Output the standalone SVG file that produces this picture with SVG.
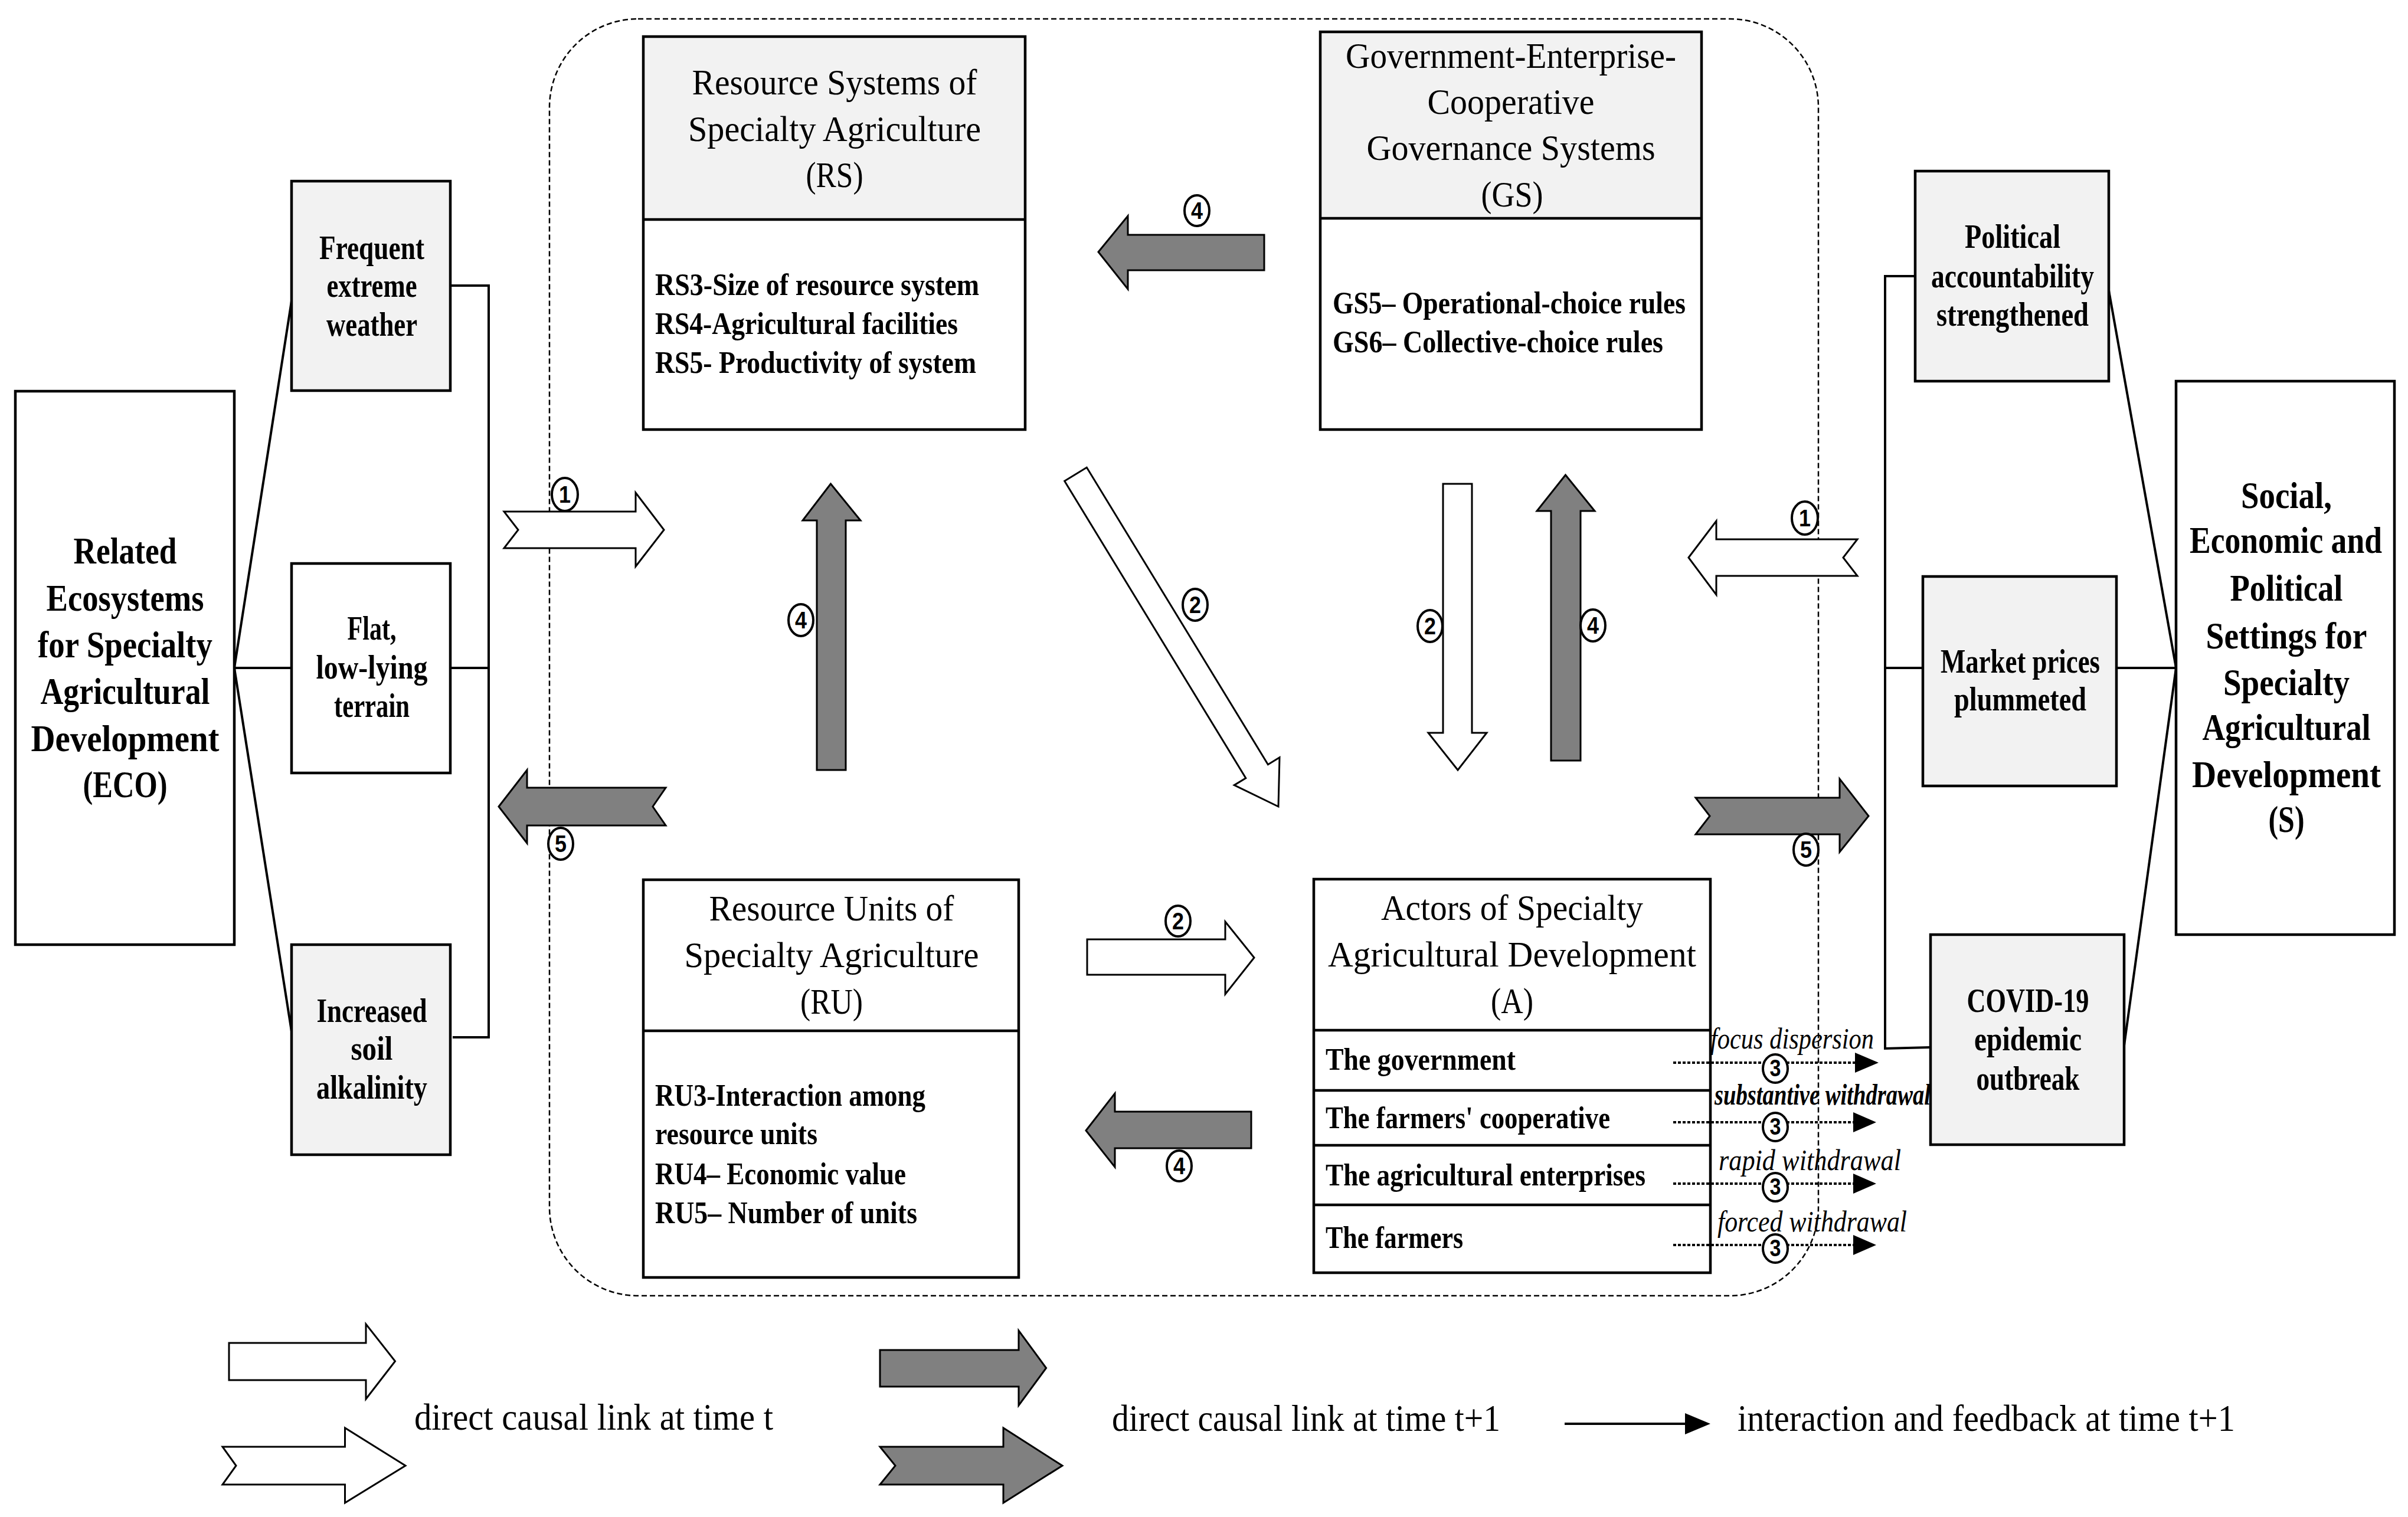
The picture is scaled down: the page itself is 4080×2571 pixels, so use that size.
<svg xmlns="http://www.w3.org/2000/svg" width="4080" height="2571" viewBox="0 0 4080 2571">
<style>
.box{fill:#fff;stroke:#000;stroke-width:4.5}
.gbox{fill:#f2f2f2;stroke:#000;stroke-width:4.5}
.hdr{fill:#f2f2f2;stroke:none}
.ln{stroke:#000;stroke-width:4;fill:none}
.wa{fill:#fff;stroke:#000;stroke-width:3}
.ga{fill:#808080;stroke:#000;stroke-width:3}
.dash{fill:none;stroke:#000;stroke-width:2.5;stroke-dasharray:9 5}
.dot{stroke:#000;stroke-width:4;stroke-dasharray:5 3}
.ttl{font-family:"Liberation Serif",serif;font-size:62px;text-anchor:middle}
.bdy{font-family:"Liberation Serif",serif;font-size:53px;font-weight:bold}
.big{font-family:"Liberation Serif",serif;font-size:64px;font-weight:bold;text-anchor:middle}
.side{font-family:"Liberation Serif",serif;font-size:58px;font-weight:bold;text-anchor:middle}
.lbl{font-family:"Liberation Serif",serif;font-size:50px;font-style:italic}
.leg{font-family:"Liberation Serif",serif;font-size:64px}
.nc{fill:#fff;stroke:#000;stroke-width:4}
.nt{font-family:"Liberation Sans",sans-serif;font-weight:bold;font-size:40px;text-anchor:middle}
</style>

<rect class="dash" x="931" y="32" width="2150" height="2164" rx="150" ry="150"/>

<g id="connectors">
  <polyline class="ln" points="763,484 828,484 828,1758 767,1758"/>
  <line class="ln" x1="763" y1="1132" x2="828" y2="1132"/>
  <line class="ln" x1="397" y1="1132" x2="494" y2="510"/>
  <line class="ln" x1="397" y1="1132" x2="494" y2="1132"/>
  <line class="ln" x1="397" y1="1132" x2="494" y2="1748"/>
  <polyline class="ln" points="3245,468 3194,468 3194,1777 3271,1775"/>
  <line class="ln" x1="3194" y1="1132" x2="3258" y2="1132"/>
  <line class="ln" x1="3687" y1="1132" x2="3573" y2="492"/>
  <line class="ln" x1="3687" y1="1132" x2="3586" y2="1132"/>
  <line class="ln" x1="3687" y1="1132" x2="3599" y2="1772"/>

  <polygon class="wa" points="854,867 1077,867 1077,835 1125,898 1077,960 1077,929 854,929 878,898"/>
  <polygon class="ga" points="845,1367 893,1305 893,1335 1128,1335 1106,1367 1128,1399 893,1399 893,1429"/>
  <polygon class="ga" points="1384,1305 1384,882 1360,882 1407.5,820 1458,882 1433,882 1433,1305"/>
  <polygon class="wa" points="1803.7,815.3 1841.3,792.3 2148.4,1295.7 2168,1283.8 2166,1367 2091.2,1330.6 2110.8,1318.7"/>
  <polygon class="ga" points="1861,427 1911,366 1911,398 2142,398 2142,458 1911,458 1911,490"/>
  <polygon class="wa" points="2445,820 2494,820 2494,1242 2519,1242 2470,1305 2420,1242 2445,1242"/>
  <polygon class="ga" points="2628,1289 2628,866 2604,866 2652.5,805 2702,866 2678,866 2678,1289"/>
  <polygon class="wa" points="2861,945 2908,883 2908,914 3147,914 3123,945 3147,976 2908,976 2908,1008"/>
  <polygon class="ga" points="2873,1352 3117,1352 3117,1320 3166,1383 3117,1444 3117,1414 2873,1414 2897,1383"/>
  <polygon class="wa" points="1842,1592 2076,1592 2076,1562 2125,1623 2076,1685 2076,1652 1842,1652"/>
  <polygon class="ga" points="1840,1916 1889,1853 1889,1884 2120,1884 2120,1946 1889,1946 1889,1978"/>

  <line class="dot" x1="2835" y1="1801" x2="3145" y2="1801"/>
  <polygon points="3143,1784 3183,1801 3143,1818"/>
  <line class="dot" x1="2835" y1="1902" x2="3145" y2="1902"/>
  <polygon points="3140,1885 3179,1902 3140,1919"/>
  <line class="dot" x1="2835" y1="2006" x2="3145" y2="2006"/>
  <polygon points="3140,1989 3179,2006 3140,2023"/>
  <line class="dot" x1="2835" y1="2110" x2="3145" y2="2110"/>
  <polygon points="3140,2093 3179,2110 3140,2127"/>
</g>

<g id="labels">
  <text class="lbl" x="2898" y="1777" textLength="277" lengthAdjust="spacingAndGlyphs">focus dispersion</text>
  <text class="lbl" x="2905" y="1872" font-weight="bold" textLength="366" lengthAdjust="spacingAndGlyphs">substantive withdrawal</text>
  <text class="lbl" x="2912" y="1983" textLength="309" lengthAdjust="spacingAndGlyphs">rapid withdrawal</text>
  <text class="lbl" x="2910" y="2087" textLength="321" lengthAdjust="spacingAndGlyphs">forced withdrawal</text>
</g>

<g id="numbers">
  <ellipse class="nc" cx="957" cy="838" rx="22" ry="28"/><text class="nt" x="957" y="852" textLength="20" lengthAdjust="spacingAndGlyphs">1</text>
  <ellipse class="nc" cx="950" cy="1430" rx="21" ry="27"/><text class="nt" x="950" y="1444" textLength="20" lengthAdjust="spacingAndGlyphs">5</text>
  <ellipse class="nc" cx="1357" cy="1051" rx="21" ry="27"/><text class="nt" x="1357" y="1065" textLength="20" lengthAdjust="spacingAndGlyphs">4</text>
  <ellipse class="nc" cx="2025" cy="1025" rx="21" ry="27"/><text class="nt" x="2025" y="1039" textLength="20" lengthAdjust="spacingAndGlyphs">2</text>
  <ellipse class="nc" cx="2028" cy="357" rx="21" ry="26"/><text class="nt" x="2028" y="371" textLength="20" lengthAdjust="spacingAndGlyphs">4</text>
  <ellipse class="nc" cx="2423" cy="1061" rx="21" ry="27"/><text class="nt" x="2423" y="1075" textLength="20" lengthAdjust="spacingAndGlyphs">2</text>
  <ellipse class="nc" cx="2699" cy="1060" rx="21" ry="27"/><text class="nt" x="2699" y="1074" textLength="20" lengthAdjust="spacingAndGlyphs">4</text>
  <ellipse class="nc" cx="3058" cy="878" rx="22" ry="28"/><text class="nt" x="3058" y="892" textLength="20" lengthAdjust="spacingAndGlyphs">1</text>
  <ellipse class="nc" cx="3060" cy="1440" rx="21" ry="27"/><text class="nt" x="3060" y="1454" textLength="20" lengthAdjust="spacingAndGlyphs">5</text>
  <ellipse class="nc" cx="1996" cy="1561" rx="21" ry="26"/><text class="nt" x="1996" y="1575" textLength="20" lengthAdjust="spacingAndGlyphs">2</text>
  <ellipse class="nc" cx="1998" cy="1976" rx="21" ry="26"/><text class="nt" x="1998" y="1990" textLength="20" lengthAdjust="spacingAndGlyphs">4</text>
  <ellipse class="nc" cx="3008" cy="1811" rx="21" ry="24"/><text class="nt" x="3008" y="1824" font-size="36" textLength="19" lengthAdjust="spacingAndGlyphs">3</text>
  <ellipse class="nc" cx="3008" cy="1910" rx="21" ry="24"/><text class="nt" x="3008" y="1923" font-size="36" textLength="19" lengthAdjust="spacingAndGlyphs">3</text>
  <ellipse class="nc" cx="3008" cy="2012" rx="21" ry="24"/><text class="nt" x="3008" y="2025" font-size="36" textLength="19" lengthAdjust="spacingAndGlyphs">3</text>
  <ellipse class="nc" cx="3008" cy="2116" rx="21" ry="24"/><text class="nt" x="3008" y="2129" font-size="36" textLength="19" lengthAdjust="spacingAndGlyphs">3</text>
</g>

<g id="ECO">
  <rect class="box" x="26" y="663" width="371" height="938"/>
  <text class="big" x="212" y="955" textLength="175" lengthAdjust="spacingAndGlyphs">Related</text>
  <text class="big" x="212" y="1035" textLength="267" lengthAdjust="spacingAndGlyphs">Ecosystems</text>
  <text class="big" x="212" y="1114" textLength="296" lengthAdjust="spacingAndGlyphs">for Specialty</text>
  <text class="big" x="212" y="1193" textLength="287" lengthAdjust="spacingAndGlyphs">Agricultural</text>
  <text class="big" x="212" y="1273" font-size="60" textLength="319" lengthAdjust="spacingAndGlyphs">Development</text>
  <text class="big" x="212" y="1351" textLength="143" lengthAdjust="spacingAndGlyphs">(ECO)</text>
</g>

<g id="eco-weather">
  <rect class="gbox" x="494" y="307" width="269" height="355"/>
  <text class="side" x="630" y="439" textLength="178" lengthAdjust="spacingAndGlyphs">Frequent</text>
  <text class="side" x="630" y="503" textLength="153" lengthAdjust="spacingAndGlyphs">extreme</text>
  <text class="side" x="630" y="569" textLength="154" lengthAdjust="spacingAndGlyphs">weather</text>
</g>
<g id="eco-terrain">
  <rect class="box" x="494" y="955" width="269" height="355"/>
  <text class="side" x="630" y="1084" textLength="83" lengthAdjust="spacingAndGlyphs">Flat,</text>
  <text class="side" x="630" y="1150" textLength="189" lengthAdjust="spacingAndGlyphs">low-lying</text>
  <text class="side" x="630" y="1215" textLength="128" lengthAdjust="spacingAndGlyphs">terrain</text>
</g>
<g id="eco-soil">
  <rect class="gbox" x="494" y="1601" width="269" height="356"/>
  <text class="side" x="630" y="1732" textLength="187" lengthAdjust="spacingAndGlyphs">Increased</text>
  <text class="side" x="630" y="1796" textLength="71" lengthAdjust="spacingAndGlyphs">soil</text>
  <text class="side" x="630" y="1862" textLength="188" lengthAdjust="spacingAndGlyphs">alkalinity</text>
</g>

<g id="RS">
  <rect class="hdr" x="1090" y="62" width="647" height="310"/>
  <rect class="box" x="1090" y="62" width="647" height="666" style="fill:none"/>
  <line class="box" x1="1090" y1="372" x2="1737" y2="372"/>
  <text class="ttl" x="1414" y="160" textLength="483" lengthAdjust="spacingAndGlyphs">Resource Systems of</text>
  <text class="ttl" x="1414" y="239" textLength="496" lengthAdjust="spacingAndGlyphs">Specialty Agriculture</text>
  <text class="ttl" x="1414" y="317" textLength="97" lengthAdjust="spacingAndGlyphs">(RS)</text>
  <text class="bdy" x="1110" y="500" textLength="549" lengthAdjust="spacingAndGlyphs">RS3-Size of resource system</text>
  <text class="bdy" x="1110" y="566" textLength="513" lengthAdjust="spacingAndGlyphs">RS4-Agricultural facilities</text>
  <text class="bdy" x="1110" y="632" textLength="544" lengthAdjust="spacingAndGlyphs">RS5- Productivity of system</text>
</g>

<g id="GS">
  <rect class="hdr" x="2237" y="54" width="646" height="316"/>
  <rect class="box" x="2237" y="54" width="646" height="674" style="fill:none"/>
  <line class="box" x1="2237" y1="370" x2="2883" y2="370"/>
  <text class="ttl" x="2560" y="115" textLength="560" lengthAdjust="spacingAndGlyphs">Government-Enterprise-</text>
  <text class="ttl" x="2560" y="193" textLength="283" lengthAdjust="spacingAndGlyphs">Cooperative</text>
  <text class="ttl" x="2560" y="271" textLength="489" lengthAdjust="spacingAndGlyphs">Governance Systems</text>
  <text class="ttl" x="2562" y="350" textLength="105" lengthAdjust="spacingAndGlyphs">(GS)</text>
  <text class="bdy" x="2258" y="531" textLength="598" lengthAdjust="spacingAndGlyphs">GS5– Operational-choice rules</text>
  <text class="bdy" x="2258" y="597" textLength="560" lengthAdjust="spacingAndGlyphs">GS6– Collective-choice rules</text>
</g>

<g id="RU">
  <rect class="box" x="1090" y="1491" width="636" height="674"/>
  <line class="box" x1="1090" y1="1747" x2="1726" y2="1747"/>
  <text class="ttl" x="1409" y="1560" textLength="415" lengthAdjust="spacingAndGlyphs">Resource Units of</text>
  <text class="ttl" x="1409" y="1639" textLength="499" lengthAdjust="spacingAndGlyphs">Specialty Agriculture</text>
  <text class="ttl" x="1409" y="1718" textLength="106" lengthAdjust="spacingAndGlyphs">(RU)</text>
  <text class="bdy" x="1110" y="1874" textLength="458" lengthAdjust="spacingAndGlyphs">RU3-Interaction among</text>
  <text class="bdy" x="1110" y="1939" textLength="275" lengthAdjust="spacingAndGlyphs">resource units</text>
  <text class="bdy" x="1110" y="2007" textLength="425" lengthAdjust="spacingAndGlyphs">RU4– Economic value</text>
  <text class="bdy" x="1110" y="2073" textLength="444" lengthAdjust="spacingAndGlyphs">RU5– Number of units</text>
</g>

<g id="A">
  <rect class="box" x="2226" y="1490" width="672" height="667" style="fill:none"/>
  <line class="box" x1="2226" y1="1746" x2="2898" y2="1746"/>
  <line class="box" x1="2226" y1="1848" x2="2898" y2="1848"/>
  <line class="box" x1="2226" y1="1941" x2="2898" y2="1941"/>
  <line class="box" x1="2226" y1="2042" x2="2898" y2="2042"/>
  <text class="ttl" x="2562" y="1559" textLength="444" lengthAdjust="spacingAndGlyphs">Actors of Specialty</text>
  <text class="ttl" x="2562" y="1638" textLength="624" lengthAdjust="spacingAndGlyphs">Agricultural Development</text>
  <text class="ttl" x="2562" y="1717" textLength="72" lengthAdjust="spacingAndGlyphs">(A)</text>
  <text class="bdy" x="2246" y="1813" textLength="322" lengthAdjust="spacingAndGlyphs">The government</text>
  <text class="bdy" x="2246" y="1912" textLength="482" lengthAdjust="spacingAndGlyphs">The farmers' cooperative</text>
  <text class="bdy" x="2246" y="2009" textLength="542" lengthAdjust="spacingAndGlyphs">The agricultural enterprises</text>
  <text class="bdy" x="2246" y="2115" textLength="233" lengthAdjust="spacingAndGlyphs">The farmers</text>
</g>

<g id="S-political">
  <rect class="gbox" x="3245" y="290" width="328" height="356"/>
  <text class="side" x="3410" y="420" textLength="162" lengthAdjust="spacingAndGlyphs">Political</text>
  <text class="side" x="3410" y="487" textLength="276" lengthAdjust="spacingAndGlyphs">accountability</text>
  <text class="side" x="3410" y="552" textLength="258" lengthAdjust="spacingAndGlyphs">strengthened</text>
</g>
<g id="S-market">
  <rect class="gbox" x="3258" y="977" width="328" height="355"/>
  <text class="side" x="3423" y="1140" textLength="270" lengthAdjust="spacingAndGlyphs">Market prices</text>
  <text class="side" x="3423" y="1204" textLength="224" lengthAdjust="spacingAndGlyphs">plummeted</text>
</g>
<g id="S-covid">
  <rect class="gbox" x="3271" y="1584" width="328" height="356"/>
  <text class="side" x="3436" y="1715" textLength="207" lengthAdjust="spacingAndGlyphs">COVID-19</text>
  <text class="side" x="3436" y="1780" textLength="182" lengthAdjust="spacingAndGlyphs">epidemic</text>
  <text class="side" x="3436" y="1847" textLength="175" lengthAdjust="spacingAndGlyphs">outbreak</text>
</g>

<g id="S">
  <rect class="box" x="3687" y="646" width="370" height="938"/>
  <text class="big" x="3874" y="861" textLength="154" lengthAdjust="spacingAndGlyphs">Social,</text>
  <text class="big" x="3873" y="937" font-size="60" textLength="326" lengthAdjust="spacingAndGlyphs">Economic and</text>
  <text class="big" x="3874" y="1018" textLength="191" lengthAdjust="spacingAndGlyphs">Political</text>
  <text class="big" x="3874" y="1099" textLength="273" lengthAdjust="spacingAndGlyphs">Settings for</text>
  <text class="big" x="3874" y="1178" textLength="214" lengthAdjust="spacingAndGlyphs">Specialty</text>
  <text class="big" x="3874" y="1254" textLength="285" lengthAdjust="spacingAndGlyphs">Agricultural</text>
  <text class="big" x="3874" y="1334" font-size="60" textLength="320" lengthAdjust="spacingAndGlyphs">Development</text>
  <text class="big" x="3874" y="1410" textLength="61" lengthAdjust="spacingAndGlyphs">(S)</text>
</g>

<g id="legend">
  <polygon class="wa" points="388,2276 620,2276 620,2244 669.5,2307 620,2371 620,2339 388,2339"/>
  <polygon class="wa" points="377,2452 584.5,2452 584.5,2420 687,2484 584.5,2547 584.5,2516 377,2516 400,2484"/>
  <text class="leg" x="702" y="2423" textLength="608" lengthAdjust="spacingAndGlyphs">direct causal link at time t</text>
  <polygon class="ga" points="1491,2288 1726,2288 1726,2255 1772.6,2318.5 1726,2382 1726,2350 1491,2350"/>
  <polygon class="ga" points="1491,2452 1700,2452 1700,2420 1800,2484 1700,2547 1700,2516 1491,2516 1517,2484"/>
  <text class="leg" x="1884" y="2425" textLength="658" lengthAdjust="spacingAndGlyphs">direct causal link at time t+1</text>
  <line x1="2651" y1="2413" x2="2858" y2="2413" stroke="#000" stroke-width="4"/>
  <polygon points="2855,2395 2898,2413 2855,2431"/>
  <text class="leg" x="2944" y="2425" textLength="843" lengthAdjust="spacingAndGlyphs">interaction and feedback at time t+1</text>
</g>
</svg>
